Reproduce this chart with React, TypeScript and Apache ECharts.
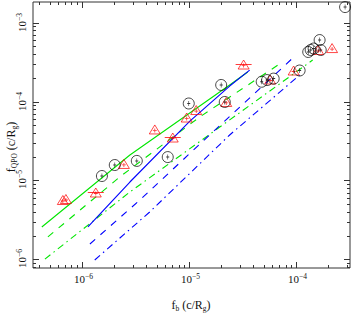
import React, { useEffect, useRef } from "react";
import * as echarts from "echarts";

// Axis extents (log scale)
const X_MIN = 3.5e-7;
const X_MAX = 3.19e-4;
const Y_MIN = 7.8e-7;
const Y_MAX = 1.82e-3;
const xMajorExps = [-6, -5, -4];
const yMajorExps = [-6, -5, -4, -3];

// Black circles (observed points)
const circleX = [1.54e-6, 2.03e-6, 3.26e-6, 6.34e-6, 9.96e-6, 2.0e-5, 2.16e-5, 4.78e-5, 5.37e-5, 6.18e-5, 1.08e-4, 1.30e-4, 1.37e-4, 1.46e-4, 1.70e-4, 1.66e-4, 2.87e-4];
const circleY = [1.14e-5, 1.57e-5, 1.77e-5, 1.98e-5, 9.44e-5, 1.62e-4, 9.87e-5, 1.78e-4, 1.87e-4, 1.95e-4, 2.47e-4, 4.24e-4, 4.49e-4, 4.69e-4, 4.49e-4, 6.0e-4, 1.57e-3];

// Red triangles
const triX = [6.65e-7, 7.1e-7, 1.35e-6, 2.47e-6, 4.8e-6, 7.06e-6, 9.53e-6, 1.17e-5, 2.23e-5, 3.24e-5, 5.73e-5, 9.5e-5, 1.61e-4, 2.17e-4];
const triY = [5.66e-6, 5.83e-6, 7.05e-6, 1.62e-5, 4.43e-5, 3.5e-5, 6.27e-5, 7.8e-5, 9.87e-5, 2.94e-4, 1.9e-4, 2.47e-4, 4.49e-4, 4.75e-4];
// Triangles carrying a horizontal error bar
const triBarX = [1.35e-6, 7.06e-6, 3.24e-5];
const triBarY = [7.05e-6, 3.5e-5, 2.94e-4];

// Model curves
const greenSolidX = [4.23e-7, 2.81e-6, 2.40e-5, 3.54e-5];
const greenSolidY = [2.58e-6, 2.10e-5, 1.62e-4, 2.36e-4];
const greenDashX = [4.82e-7, 2.26e-6, 1.26e-5, 7.03e-5];
const greenDashY = [1.93e-6, 1.11e-5, 6.37e-5, 2.99e-4];
const greenDotDashX = [4.52e-7, 2.81e-6, 1.94e-5, 1.43e-4];
const greenDotDashY = [1.01e-6, 7.15e-6, 4.75e-5, 3.35e-4];
const blueSolidX = [1.14e-6, 2.81e-6, 1.02e-5, 2.40e-5, 3.69e-5];
const blueSolidY = [2.58e-6, 9.57e-6, 5.66e-5, 1.57e-4, 2.5e-4];
const blueDashX = [1.19e-6, 3.48e-6, 1.56e-5, 9.1e-5];
const blueDashY = [1.57e-6, 5.66e-6, 3.77e-5, 3.45e-4];
const blueDotDashX = [1.32e-6, 4.3e-6, 2.40e-5, 1.08e-4];
const blueDotDashY = [9.86e-7, 3.99e-6, 3.77e-5, 2.16e-4];

const FONT = "'Liberation Serif', 'DejaVu Serif', serif";
const GREEN = "#00e600";
const BLUE = "#0000ff";
const RED = "#ff0000";
const AXIS = "#333";

const zip = (xs: number[], ys: number[]) => xs.map((x, i) => [x, ys[i]]);

function tickData(min: number, max: number, kind: number, other: number) {
  const out: number[][] = [];
  for (let k = -8; k <= -2; k++) {
    for (let m = 1; m <= 9; m++) {
      const v = m * Math.pow(10, k);
      if (v >= min && v <= max) {
        out.push(kind === 0 ? [v, other, 0, m === 1 ? 1 : 0, k] : [other, v, 1, m === 1 ? 1 : 0, k]);
      }
    }
  }
  return out;
}

const labelRich = {
  a: { fontFamily: FONT, fontSize: 11, lineHeight: 13, fill: "#111" },
  b: { fontFamily: FONT, fontSize: 7.5, lineHeight: 8, verticalAlign: "top", fill: "#111" },
};

export default function App() {
  const ref = useRef<HTMLDivElement>(null);
  useEffect(() => {
    document.body.style.margin = "0";
    if (!ref.current) return;
    const chart = echarts.init(ref.current, undefined, { renderer: "svg" });
    const lineSeries = (xs: number[], ys: number[], color: string, type: any) => ({
      type: "line",
      data: zip(xs, ys),
      showSymbol: false,
      symbol: "none",
      lineStyle: { color, width: 1.1, type },
      z: 2,
      silent: true,
    });
    const plusPath = "path://M4,0h2v4h4v2h-4v4h-2v-4h-4v-2h4z";
    const ticks = [
      ...tickData(X_MIN, X_MAX, 0, Y_MIN),
      ...tickData(Y_MIN, Y_MAX, 1, X_MIN),
    ];
    const option: any = {
      animation: false,
      grid: { left: 33, top: 2, right: 4, bottom: 49, show: true, borderColor: AXIS, borderWidth: 1, backgroundColor: "#fff" },
      xAxis: {
        type: "log", logBase: 10, min: X_MIN, max: X_MAX,
        axisLine: { show: false }, axisTick: { show: false }, axisLabel: { show: false }, splitLine: { show: false },
      },
      yAxis: {
        type: "log", logBase: 10, min: Y_MIN, max: Y_MAX,
        axisLine: { show: false }, axisTick: { show: false }, axisLabel: { show: false }, splitLine: { show: false },
      },
      graphic: [
        {
          type: "text", x: 191, y: 305,
          style: {
            text: "{m|f}{s|b}{m| (c/R}{s|g}{m|)}",
            align: "center", verticalAlign: "middle",
            rich: {
              m: { fontFamily: FONT, fontSize: 12, lineHeight: 15, fill: "#111" },
              s: { fontFamily: FONT, fontSize: 7.5, lineHeight: 8, verticalAlign: "bottom", fill: "#111", padding: [4, 0, 0, 0] },
            },
          },
        },
        {
          type: "text", x: 11, y: 147, rotation: Math.PI / 2,
          style: {
            text: "{m|f}{s|QPO}{m| (c/R}{s|g}{m|)}",
            align: "center", verticalAlign: "middle",
            rich: {
              m: { fontFamily: FONT, fontSize: 12, lineHeight: 15, fill: "#111" },
              s: { fontFamily: FONT, fontSize: 7.5, lineHeight: 8, verticalAlign: "bottom", fill: "#111", padding: [4, 0, 0, 0] },
            },
          },
        },
      ],
      series: [
        lineSeries(greenSolidX, greenSolidY, GREEN, "solid"),
        lineSeries(greenDashX, greenDashY, GREEN, [7, 7]),
        lineSeries(greenDotDashX, greenDotDashY, GREEN, [7, 4, 1.5, 4]),
        lineSeries(blueSolidX, blueSolidY, BLUE, "solid"),
        lineSeries(blueDashX, blueDashY, BLUE, [7, 7]),
        lineSeries(blueDotDashX, blueDotDashY, BLUE, [7, 4, 1.5, 4]),
        {
          type: "scatter", data: zip(triBarX, triBarY), symbol: "rect", symbolSize: [16, 1],
          itemStyle: { color: RED }, z: 3, silent: true,
        },
        {
          type: "scatter", data: zip(triX, triY), symbol: "triangle", symbolSize: [11, 9],
          itemStyle: { color: "rgba(0,0,0,0)", borderColor: RED, borderWidth: 0.9 }, z: 4, silent: true,
        },
        {
          type: "scatter", data: zip(triX, triY), symbol: plusPath, symbolSize: 4, symbolOffset: [0, 1],
          itemStyle: { color: RED }, z: 4, silent: true,
        },
        {
          type: "scatter", data: zip(circleX, circleY), symbol: "circle", symbolSize: 11,
          itemStyle: { color: "rgba(0,0,0,0)", borderColor: "#000", borderWidth: 0.9 }, z: 5, silent: true,
        },
        {
          type: "scatter", data: zip(circleX, circleY), symbol: plusPath, symbolSize: [3, 5],
          itemStyle: { color: "#000" }, z: 5, silent: true,
        },
        {
          type: "custom",
          data: ticks,
          silent: true,
          z: 10,
          clip: false,
          renderItem: (params: any, api: any) => {
            const cs = params.coordSys;
            const kind = api.value(2);
            const major = api.value(3) === 1;
            const exp = api.value(4);
            const len = major ? 6 : 3;
            const st = { stroke: AXIS, lineWidth: 1 };
            const children: any[] = [];
            const expText = exp < 0 ? "\u2212" + String(-exp) : String(exp);
            if (kind === 0) {
              const p = api.coord([api.value(0), api.value(1)]);
              const px = Math.round(p[0]) + 0.5;
              const yb = cs.y + cs.height;
              children.push({ type: "line", shape: { x1: px, y1: yb, x2: px, y2: yb - len }, style: st });
              children.push({ type: "line", shape: { x1: px, y1: cs.y, x2: px, y2: cs.y + len }, style: st });
              if (major) {
                children.push({
                  type: "text", x: px + 1, y: yb + 11,
                  style: { text: `{a|10}{b|${expText}}`, rich: labelRich, align: "center", verticalAlign: "middle" },
                });
              }
            } else {
              const p = api.coord([api.value(0), api.value(1)]);
              const py = Math.round(p[1]) + 0.5;
              const xr = cs.x + cs.width;
              children.push({ type: "line", shape: { x1: cs.x, y1: py, x2: cs.x + len, y2: py }, style: st });
              children.push({ type: "line", shape: { x1: xr, y1: py, x2: xr - len, y2: py }, style: st });
              if (major) {
                children.push({
                  type: "text", x: cs.x - 11, y: py - 1, rotation: Math.PI / 2,
                  style: { text: `{a|10}{b|${expText}}`, rich: labelRich, align: "center", verticalAlign: "middle" },
                });
              }
            }
            return { type: "group", children };
          },
        },
      ],
    };
    chart.setOption(option);
    return () => chart.dispose();
  }, []);
  return <div ref={ref} style={{ width: 354, height: 317 }} />;
}
